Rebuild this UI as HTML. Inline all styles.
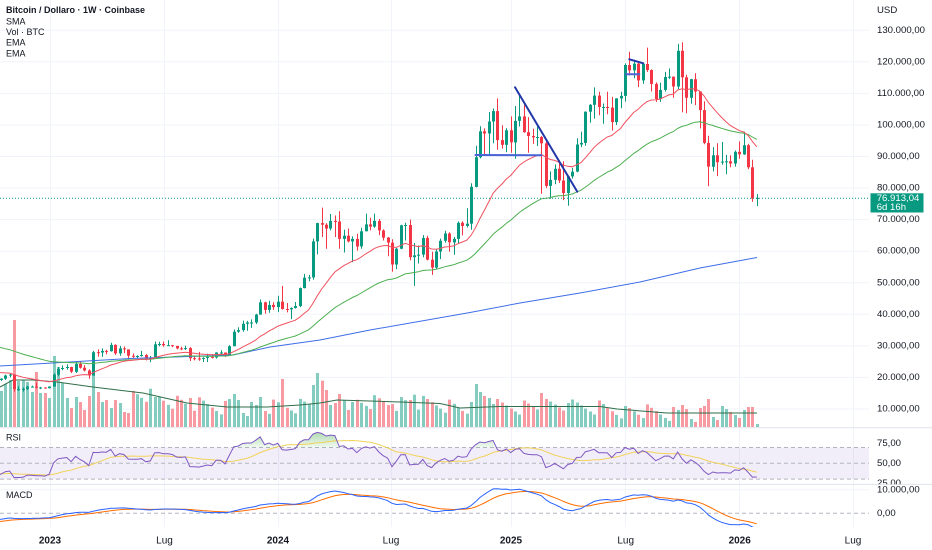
<!DOCTYPE html>
<html><head><meta charset="utf-8">
<style>
html,body{margin:0;padding:0;background:#fff;}
svg{display:block;font-family:"Liberation Sans",sans-serif;}
</style></head>
<body>
<svg id="s" width="932" height="550" viewBox="0 0 932 550" xmlns="http://www.w3.org/2000/svg">
<defs>
<clipPath id="cm"><rect x="0" y="0" width="869" height="427"/></clipPath>
<clipPath id="cr"><rect x="0" y="428.3" width="869" height="55.7"/></clipPath>
<clipPath id="cob"><rect x="0" y="428.3" width="869" height="19.2"/></clipPath>
<clipPath id="cos"><rect x="0" y="479.1" width="869" height="5"/></clipPath>
<clipPath id="cd"><rect x="0" y="485" width="869" height="42"/></clipPath>
<clipPath id="cra"><rect x="869" y="428.3" width="63" height="55.9"/></clipPath>
<linearGradient id="gob" gradientUnits="userSpaceOnUse" x1="0" y1="428" x2="0" y2="447.5">
<stop offset="0" stop-color="#4caf50" stop-opacity="0.55"/>
<stop offset="1" stop-color="#4caf50" stop-opacity="0.08"/>
</linearGradient>
</defs>
<rect width="932" height="550" fill="#fff"/>
<g stroke="#f0f3fa" stroke-width="1">
<line x1="0" y1="30.3" x2="869" y2="30.3"/>
<line x1="0" y1="61.8" x2="869" y2="61.8"/>
<line x1="0" y1="93.4" x2="869" y2="93.4"/>
<line x1="0" y1="125" x2="869" y2="125"/>
<line x1="0" y1="156.5" x2="869" y2="156.5"/>
<line x1="0" y1="188.1" x2="869" y2="188.1"/>
<line x1="0" y1="219.6" x2="869" y2="219.6"/>
<line x1="0" y1="251.2" x2="869" y2="251.2"/>
<line x1="0" y1="282.8" x2="869" y2="282.8"/>
<line x1="0" y1="314.3" x2="869" y2="314.3"/>
<line x1="0" y1="345.9" x2="869" y2="345.9"/>
<line x1="0" y1="377.4" x2="869" y2="377.4"/>
<line x1="0" y1="409" x2="869" y2="409"/>
<line x1="0" y1="489.7" x2="869" y2="489.7"/>
<line x1="50.5" y1="0" x2="50.5" y2="527"/>
<line x1="164.5" y1="0" x2="164.5" y2="527"/>
<line x1="278.5" y1="0" x2="278.5" y2="527"/>
<line x1="391.5" y1="0" x2="391.5" y2="527"/>
<line x1="511.5" y1="0" x2="511.5" y2="527"/>
<line x1="625.5" y1="0" x2="625.5" y2="527"/>
<line x1="739.5" y1="0" x2="739.5" y2="527"/>
<line x1="853.5" y1="0" x2="853.5" y2="527"/>
</g>
<rect x="0" y="447.5" width="869" height="31.6" fill="#7e57c2" fill-opacity="0.1"/>
<g stroke="#b2b5be" stroke-width="1" stroke-dasharray="4 3">
<line x1="0" y1="447.5" x2="869" y2="447.5"/>
<line x1="0" y1="463.3" x2="869" y2="463.3"/>
<line x1="0" y1="479.1" x2="869" y2="479.1"/>
<line x1="0" y1="513.3" x2="869" y2="513.3"/>
</g>
<g id="dyn"></g>
<g stroke-linecap="round">
<line x1="515" y1="87.3" x2="577.3" y2="191.7" stroke="#2237a8" stroke-width="2"/>
<line x1="475.5" y1="155" x2="541.5" y2="155.3" stroke="#4a64d6" stroke-width="2"/>
<line x1="629.3" y1="59.3" x2="643.3" y2="63.3" stroke="#2237a8" stroke-width="2"/>
<line x1="626" y1="74.3" x2="639.3" y2="74.3" stroke="#4a64d6" stroke-width="2"/>
</g>
<line x1="0" y1="198.3" x2="869" y2="198.3" stroke="#089981" stroke-width="1" stroke-dasharray="1 2"/>
<line x1="0" y1="427.7" x2="932" y2="427.7" stroke="#e0e3eb" stroke-width="1"/>
<line x1="0" y1="484.4" x2="932" y2="484.4" stroke="#e0e3eb" stroke-width="1"/>
<g font-size="9" fill="#131722" dominant-baseline="central">
<text x="6" y="10" font-weight="bold">Bitcoin / Dollaro · 1W · Coinbase</text>
<text x="6" y="21.3">SMA</text>
<text x="6" y="32">Vol · BTC</text>
<text x="6" y="42.7">EMA</text>
<text x="6" y="53.3">EMA</text>
<text x="6" y="437.5">RSI</text>
<text x="6" y="495">MACD</text>
</g>
<g font-size="9.6" fill="#131722" dominant-baseline="central">
<text x="877" y="10.5">USD</text>
<text x="877" y="30.3">130.000,00</text>
<text x="877" y="61.8">120.000,00</text>
<text x="877" y="93.4">110.000,00</text>
<text x="877" y="125">100.000,00</text>
<text x="877" y="156.5">90.000,00</text>
<text x="877" y="188.1">80.000,00</text>
<text x="877" y="219.6">70.000,00</text>
<text x="877" y="251.2">60.000,00</text>
<text x="877" y="282.8">50.000,00</text>
<text x="877" y="314.3">40.000,00</text>
<text x="877" y="345.9">30.000,00</text>
<text x="877" y="377.4">20.000,00</text>
<text x="877" y="409">10.000,00</text>
<g clip-path="url(#cra)">
<text x="877" y="443.7">75,00</text>
<text x="877" y="463.3">50,00</text>
<text x="877" y="483.3">25,00</text>
</g>
<text x="877" y="489.9">10.000,00</text>
<text x="877" y="513.3">0,00</text>
</g>
<rect x="870.5" y="193.3" width="53" height="19.2" fill="#089981"/>
<g font-size="9.6" fill="#ffffff" dominant-baseline="central">
<text x="876.7" y="198.6">76.913,04</text>
<text x="876.7" y="207.4">6d 16h</text>
</g>
<g font-size="10" fill="#131722" text-anchor="middle" dominant-baseline="central">
<text x="50" y="541" font-weight="bold">2023</text>
<text x="164.5" y="541">Lug</text>
<text x="278" y="541" font-weight="bold">2024</text>
<text x="391" y="541">Lug</text>
<text x="511" y="541" font-weight="bold">2025</text>
<text x="625.7" y="541">Lug</text>
<text x="739.7" y="541" font-weight="bold">2026</text>
<text x="853" y="541">Lug</text>
</g>
</svg>
<script>
(function(){
var D=[
[19.4,19.9,18.2,19.2],[19.2,19.7,18.9,19.6],[19.6,20.9,19.2,20.6],[20.6,21.4,20.0,20.9],
[20.9,21.0,15.5,16.3],[16.3,17.2,15.8,16.3],[16.3,16.8,15.5,16.4],[16.4,17.4,16.0,17.1],
[17.1,17.4,16.8,17.1],[17.1,18.4,16.5,16.8],[16.8,17.0,16.3,16.8],[16.8,16.9,16.4,16.6],
[16.6,17.2,16.5,17.1],[17.1,21.3,17.1,20.9],[20.9,23.3,20.4,22.7],[22.7,23.8,22.3,23.0],
[23.0,24.2,22.5,23.3],[23.3,23.4,21.4,21.8],[21.8,25.2,21.4,24.3],[24.3,25.1,22.8,23.1],
[23.1,23.9,21.9,22.2],[22.2,22.6,19.6,20.6],[20.6,28.4,20.6,28.0],[28.0,28.9,26.6,27.9],
[27.9,29.2,26.5,28.4],[28.4,28.8,27.3,28.3],[28.3,31.0,28.2,30.3],[30.3,30.5,27.1,27.6],
[27.6,30.0,26.9,29.2],[29.2,29.8,27.7,28.9],[28.9,28.9,25.8,26.9],[26.9,27.6,26.1,26.8],
[26.8,27.0,25.9,26.8],[26.8,28.4,26.6,27.1],[27.1,27.4,25.4,25.9],[25.9,26.8,24.8,26.3],
[26.3,31.4,26.3,30.5],[30.5,31.3,29.9,30.6],[30.6,31.4,29.7,30.2],[30.2,31.8,30.0,30.2],
[30.2,30.3,29.6,30.0],[30.0,30.0,28.9,29.2],[29.2,29.7,28.6,29.1],[29.1,30.1,28.7,29.3],
[29.3,29.6,25.2,26.1],[26.1,26.8,25.4,26.0],[26.0,28.1,25.3,25.9],[25.9,26.4,24.9,26.2],
[26.2,27.5,24.9,26.5],[26.5,27.4,26.0,26.3],[26.3,28.0,26.0,27.9],[27.9,28.6,27.2,27.9],
[27.9,27.9,26.5,26.9],[26.9,30.2,26.9,29.9],[29.9,35.2,29.9,34.5],[34.5,35.9,34.1,35.0],
[35.0,38.0,34.5,37.0],[37.0,37.9,34.8,37.4],[37.4,38.4,35.7,37.4],[37.4,40.2,36.9,39.9],
[39.9,44.7,39.9,43.8],[43.8,44.0,40.2,41.4],[41.4,44.3,40.5,43.0],[43.0,43.8,41.4,42.3],
[42.3,45.9,40.7,44.0],[44.0,49.0,41.5,41.7],[41.7,43.6,40.6,41.6],[41.6,42.2,38.5,42.0],
[42.0,43.9,41.8,42.6],[42.6,48.5,42.3,48.3],[48.3,52.8,48.2,51.6],[51.6,52.5,50.5,51.7],
[51.7,64.0,51.0,63.1],[63.1,69.0,59.0,68.9],[68.9,73.8,64.5,68.4],[68.4,68.9,60.8,67.2],
[67.2,71.8,66.6,69.6],[69.6,71.3,64.5,69.4],[69.4,72.7,60.8,63.9],[63.9,66.8,59.6,64.9],
[64.9,67.2,62.8,63.1],[63.1,64.7,56.5,63.9],[63.9,65.5,60.2,61.5],[61.5,67.4,60.8,66.3],
[66.3,71.9,66.3,68.5],[68.5,70.6,66.6,67.8],[67.8,71.9,67.4,69.6],[69.6,70.2,65.1,66.6],
[66.6,66.9,63.4,64.3],[64.3,64.5,58.4,62.7],[62.7,63.8,53.5,55.8],[55.8,61.0,54.3,60.8],
[60.8,68.4,60.6,68.2],[68.2,69.0,63.4,68.3],[68.3,70.0,57.1,58.1],[58.1,62.6,49.0,58.7],
[58.7,61.8,56.1,58.9],[58.9,65.1,58.1,64.2],[64.2,64.9,57.1,57.3],[57.3,59.8,52.5,54.8],
[54.8,60.6,54.5,59.9],[59.9,64.0,57.5,63.3],[63.3,66.5,62.7,65.6],[65.6,66.0,59.8,62.8],
[62.8,64.5,58.9,63.9],[63.9,69.4,62.4,69.0],[69.0,69.5,65.0,68.0],[68.0,73.6,67.5,68.7],
[68.7,81.5,66.8,80.4],[80.4,93.4,80.2,89.8],[89.8,99.6,89.4,98.0],[98.0,98.9,90.8,97.3],
[97.3,104.1,90.5,101.1],[101.1,105.2,94.2,104.4],[104.4,108.4,92.2,95.2],[95.2,99.9,92.5,93.7],
[93.7,99.0,91.4,98.3],[98.3,102.7,91.2,94.5],[94.5,106.0,89.3,101.3],[101.3,109.5,99.5,102.7],
[102.7,106.4,97.5,97.7],[97.7,102.5,91.2,96.5],[96.5,98.8,94.0,96.1],[96.1,99.5,93.3,96.2],
[96.2,96.5,78.2,94.2],[94.2,95.0,80.0,80.7],[80.7,85.3,76.6,82.6],[82.6,87.5,81.2,86.1],
[86.1,88.8,81.6,82.4],[82.4,88.5,76.2,78.4],[78.4,84.0,74.4,83.7],[83.7,86.4,83.0,85.2],
[85.2,95.8,85.0,93.8],[93.8,97.9,93.0,94.3],[94.3,104.3,93.4,104.2],[104.2,106.6,100.7,106.4],
[106.4,111.9,102.0,109.3],[109.3,110.5,103.1,105.7],[105.7,106.8,100.4,105.7],[105.7,110.5,103.4,105.5],
[105.5,108.9,98.2,100.9],[100.9,108.5,100.0,108.4],[108.4,110.5,105.3,109.2],[109.2,119.5,107.4,119.0],
[119.0,123.2,115.7,117.3],[117.3,120.2,114.8,119.4],[119.4,119.9,112.0,114.1],[114.1,119.3,113.0,119.3],
[119.3,124.5,116.8,117.4],[117.4,117.6,110.6,113.0],[113.0,113.5,107.3,108.2],[108.2,113.4,107.3,111.1],
[111.1,116.8,110.6,115.2],[115.2,117.9,114.6,115.3],[115.3,115.4,108.6,112.2],[112.2,125.7,111.4,123.5],
[123.5,126.2,104.0,115.1],[115.1,115.9,103.7,108.6],[108.6,114.6,106.7,114.5],[114.5,116.4,106.3,110.6],
[110.6,110.7,98.9,104.7],[104.7,107.5,93.9,94.3],[94.3,96.6,80.6,86.8],[86.8,93.0,85.3,90.4],
[90.4,94.2,83.8,88.2],[88.2,94.6,87.4,88.4],[88.4,90.5,84.4,88.5],[88.5,90.4,86.6,87.8],
[87.8,91.9,86.8,91.5],[91.5,94.8,89.3,90.7],[90.7,97.9,90.5,93.6],[93.6,94.0,86.0,86.6],
[86.6,89.0,75.7,76.7],[76.7,78.1,74.3,76.9]
];
var K0=-12;
function XP(k){return 49.2+4.395*k;}
function X(k){return Math.round(XP(k))+0.5;}
function Y(p){return 440.56-p*3.156;}
function YR(r){return 463.3-(r-50)*0.79;}
function YM(m){return 513.3-m*2.36;}
function interp(pts,x){if(x<=pts[0][0])return pts[0][1];for(var i=1;i<pts.length;i++){if(x<=pts[i][0]){var a=pts[i-1],b=pts[i];return a[1]+(b[1]-a[1])*(x-a[0])/(b[0]-a[0]);}}return pts[pts.length-1][1];}
var VMA=[[0,387],[13,380],[33,380],[57,382],[93,387],[143,393],[187,403],[227,407],[267,407],[300,405],[320,403],[337,400],[400,402],[440,403.5],[460,408],[500,406.5],[600,406.5],[617,409],[667,413],[757,413]];
var VT={"-11":391,"-10":384,"-9":380,"-8":320,"-7":381,"-6":380,"-5":382,"-4":392,"-3":372,"-2":393,"-1":393,
"0":398,"1":356,"2":367,"3":383,"4":398,"5":408,"6":397,"7":402,"8":410,"9":396,"10":375,"11":392,"12":402,"13":400,"14":408,"15":400,"16":403,"17":412,"18":413,
"24":397,"32":398,"41":399,"42":394,"43":400,"48":397,"53":379,"60":385,"61":373,"62":380.7,"63":390,"64":405,"65":403,"66":394,"67":400,"68":410,"69":402,
"77":405,"78":404,"82":400,"83":394.7,"96":402,"97":384,"98":392,"99":396,"100":398,"101":404,"102":399,"112":393,"113":399,"118":403,
"131":406,"132":408,"144":405,"145":409,"149":406,"150":399,"158":410,"160":407,"161":424};
var vol='',cand='';
var e20=22.0,e50=30.3,e12=19.7,e26=22.6,sig=-3.9,ag=0.6,al=1.1;
var rh=[];for(var q=0;q<13;q++)rh.push(37);
var p20=[],p50=[],pr=[],prm=[],pm=[],ps=[];
for(var i=0;i<D.length;i++){
 var d=D[i],k=i+K0,cx=X(k),xp=XP(k).toFixed(2);
 var o=d[0],h=d[1],l=d[2],c=d[3],up=c>=o;
 var t=VT[String(k)];
 if(t===undefined){var n=((((k*37)%17)+17)%17)-7;t=interp(VMA,cx)+n;}
 if(t>424)t=424;
 vol+='<rect x="'+(cx-1.5)+'" y="'+t.toFixed(1)+'" width="3" height="'+(427-t).toFixed(1)+'" fill="'+(up?'#84ccc0':'#f89aa2')+'"/>';
 var col=up?'#089981':'#f23645';
 var yo=Y(o),yc=Y(c),by=Math.min(yo,yc),bh=Math.abs(yo-yc);if(bh<1)bh=1;
 cand+='<line x1="'+cx+'" y1="'+Y(h).toFixed(1)+'" x2="'+cx+'" y2="'+Y(l).toFixed(1)+'" stroke="'+col+'" stroke-width="1"/>';
 cand+='<rect x="'+(cx-1.5)+'" y="'+by.toFixed(1)+'" width="3" height="'+bh.toFixed(1)+'" fill="'+col+'"/>';
 e20+=(c-e20)*2/21; e50+=(c-e50)*2/51;
 p20.push(xp+','+Y(e20).toFixed(1)); p50.push(xp+','+Y(e50).toFixed(1));
 var pc=i===0?o:D[i-1][3], ch=c-pc;
 ag=(ag*13+Math.max(ch,0))/14; al=(al*13+Math.max(-ch,0))/14;
 var r=100-100/(1+ag/al);
 rh.push(r);
 var sum=0;for(var j=rh.length-14;j<rh.length;j++)sum+=rh[j];
 var rm=sum/14;
 pr.push(xp+','+YR(r).toFixed(1)); prm.push(xp+','+YR(rm).toFixed(1));
 e12+=(c-e12)*2/13; e26+=(c-e26)*2/27; var m=e12-e26; sig+=(m-sig)*0.2;
 pm.push(xp+','+YM(m).toFixed(1)); ps.push(xp+','+YM(sig).toFixed(1));
}
var SMA=[[0,366],[130,358.5],[233,355],[270,347],[320,340],[370,330],[470,312.5],[520,303],[580,293],[640,282],[700,268],[757,257.5]];
var sm=SMA.map(function(p){return p[0]+','+p[1];}).join(' ');
var vm=VMA.map(function(p){return p[0]+','+p[1];}).join(' ');
var x0=XP(K0).toFixed(2),x1=XP(K0+D.length-1).toFixed(2);
var s='';
s+='<g clip-path="url(#cm)">';
s+=vol;
s+='<polyline points="'+vm+'" fill="none" stroke="#2f6e48" stroke-width="1"/>';
s+=cand;
s+='<polyline points="'+sm+'" fill="none" stroke="#3f6ee8" stroke-width="1"/>';
s+='<polyline points="'+p50.join(' ')+'" fill="none" stroke="#4caf50" stroke-width="1"/>';
s+='<polyline points="'+p20.join(' ')+'" fill="none" stroke="#f0505e" stroke-width="1"/>';
s+='</g>';
s+='<g clip-path="url(#cob)"><polygon points="'+pr.join(' ')+' '+x1+',447.5 '+x0+',447.5" fill="url(#gob)"/></g>';
s+='<g clip-path="url(#cos)"><polygon points="'+pr.join(' ')+' '+x1+',479.1 '+x0+',479.1" fill="#f23645" fill-opacity="0.2"/></g>';
s+='<g clip-path="url(#cr)">';
s+='<polyline points="'+prm.join(' ')+'" fill="none" stroke="#f1d25a" stroke-width="1"/>';
s+='<polyline points="'+pr.join(' ')+'" fill="none" stroke="#7e57c2" stroke-width="1"/>';
s+='</g>';
s+='<g clip-path="url(#cd)">';
s+='<polyline points="'+ps.join(' ')+'" fill="none" stroke="#ff6d00" stroke-width="1"/>';
s+='<polyline points="'+pm.join(' ')+'" fill="none" stroke="#2962ff" stroke-width="1"/>';
s+='</g>';
document.getElementById('dyn').innerHTML=s;
})();
</script>
</body></html>
